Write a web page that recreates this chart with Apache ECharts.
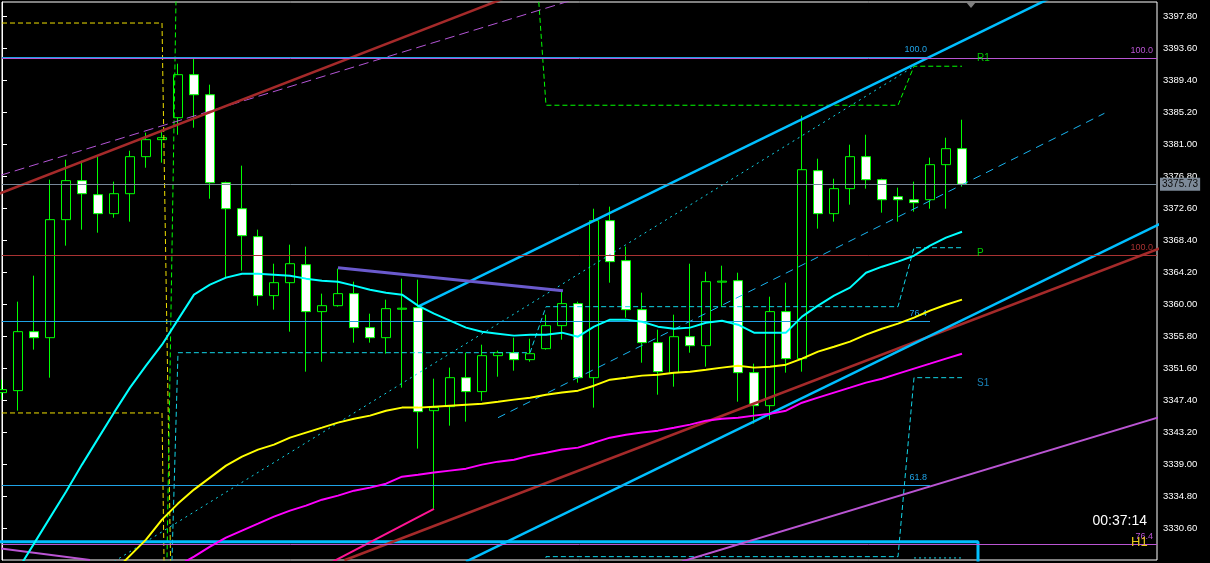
<!DOCTYPE html>
<html>
<head>
<meta charset="utf-8">
<script src="https://cdn.jsdelivr.net/npm/echarts@6.0.0/dist/echarts.min.js"></script>
<style>
html,body{margin:0;padding:0;background:#000;overflow:hidden;}
#chart{width:1210px;height:563px;}
</style>
</head>
<body>
<div id="chart"></div>
<script>
// ---------- DATA (H1 bars, index 0..60) ----------
const opens = [
  3348.37, 3348.63, 3356.37, 3355.58, 3371.07, 3376.19, 3374.35, 3371.86, 3374.48, 3379.34,
  3381.57, 3384.45, 3390.10, 3387.47, 3375.92, 3372.51, 3368.84, 3361.10, 3362.80, 3365.16,
  3359.00, 3359.78, 3361.36, 3356.90, 3355.58, 3359.32, 3359.52, 3346.00, 3346.53, 3350.33,
  3348.50, 3353.22, 3353.61, 3352.70, 3354.14, 3357.16, 3360.05, 3350.33, 3370.94, 3365.69,
  3359.26, 3354.93, 3350.99, 3355.71, 3354.53, 3362.87, 3363.06, 3350.99, 3346.66, 3359.00,
  3352.83, 3377.50, 3371.86, 3375.14, 3379.34, 3376.32, 3374.09, 3373.69, 3373.69, 3378.29,
  3380.39
];
const closes = [
  3348.76, 3356.37, 3355.58, 3371.07, 3376.19, 3374.48, 3371.86, 3374.48, 3379.34, 3381.57,
  3381.83, 3390.10, 3387.47, 3375.92, 3372.51, 3368.97, 3361.10, 3362.80, 3365.29, 3359.00,
  3359.78, 3361.36, 3356.90, 3355.58, 3359.39, 3359.45, 3345.87, 3346.40, 3350.33, 3348.50,
  3353.22, 3353.61, 3352.70, 3353.48, 3357.16, 3360.05, 3350.33, 3370.94, 3365.56, 3359.26,
  3354.93, 3351.12, 3355.71, 3354.53, 3362.93, 3363.00, 3350.99, 3346.66, 3359.00, 3352.83,
  3377.63, 3371.86, 3375.14, 3379.34, 3376.32, 3373.69, 3373.69, 3373.30, 3378.29, 3380.39,
  3375.73
];
const lows = [
  3347.45, 3346.00, 3354.01, 3350.33, 3367.66, 3369.76, 3369.36, 3371.33, 3370.81, 3377.89,
  3378.55, 3382.22, 3383.14, 3373.82, 3363.46, 3364.38, 3359.78, 3359.26, 3356.37, 3351.12,
  3352.43, 3359.65, 3354.93, 3354.93, 3353.48, 3349.02, 3341.02, 3333.14, 3344.03, 3344.56,
  3347.32, 3350.46, 3351.25, 3352.43, 3354.01, 3355.32, 3349.68, 3346.40, 3362.80, 3358.21,
  3352.30, 3348.10, 3349.15, 3353.61, 3351.78, 3359.65, 3347.18, 3344.30, 3344.82, 3350.99,
  3351.12, 3369.89, 3370.81, 3373.04, 3375.14, 3371.99, 3370.81, 3372.12, 3372.51, 3372.51,
  3375.40
];
const highs = [
  3350.07, 3360.31, 3363.72, 3376.32, 3378.94, 3378.81, 3379.34, 3376.06, 3380.12, 3382.49,
  3382.88, 3391.54, 3392.20, 3388.79, 3376.06, 3378.16, 3369.76, 3365.29, 3367.79, 3367.53,
  3361.36, 3364.64, 3362.93, 3358.73, 3360.57, 3363.33, 3363.19, 3350.20, 3351.65, 3353.61,
  3354.66, 3353.88, 3355.58, 3355.45, 3358.60, 3361.62, 3360.31, 3372.51, 3372.78, 3367.53,
  3361.49, 3356.63, 3358.60, 3365.29, 3364.24, 3365.03, 3364.11, 3352.17, 3360.96, 3362.80,
  3384.72, 3379.07, 3376.45, 3380.91, 3382.22, 3376.45, 3375.27, 3376.06, 3379.21, 3381.83,
  3384.19
];
// moving averages (fast = aqua, mid = yellow, slow = magenta)
const maFast = [
  3321.59, 3325.14, 3328.55, 3331.96, 3335.37, 3338.92, 3342.33, 3345.74, 3349.02, 3351.91,
  3354.66, 3357.95, 3361.23, 3362.54, 3363.46, 3363.98, 3363.98, 3363.85, 3363.72, 3363.33,
  3363.06, 3362.93, 3362.41, 3361.88, 3361.49, 3361.23, 3359.78, 3358.73, 3357.81, 3356.90,
  3356.37, 3356.11, 3355.85, 3355.98, 3355.98, 3356.24, 3355.71, 3357.03, 3357.95, 3357.95,
  3357.68, 3357.03, 3356.76, 3356.90, 3357.55, 3357.81, 3357.29, 3356.24, 3356.24, 3356.24,
  3358.34, 3359.78, 3361.10, 3362.15, 3364.11, 3364.90, 3365.56, 3366.34, 3367.66, 3368.71,
  3369.49
];
const maMid = [
  null, null, null, null, null, null, 3322.77, 3324.87, 3326.97, 3329.07,
  3331.70, 3333.80, 3335.64, 3337.21, 3338.79, 3339.97, 3340.89, 3341.54, 3342.46, 3343.12,
  3343.77, 3344.43, 3344.95, 3345.35, 3346.00, 3346.40, 3346.40, 3346.53, 3346.66, 3346.79,
  3346.92, 3347.18, 3347.45, 3347.71, 3348.10, 3348.37, 3348.63, 3349.28, 3350.07, 3350.33,
  3350.60, 3350.73, 3350.99, 3351.12, 3351.38, 3351.65, 3351.91, 3351.65, 3351.78, 3352.04,
  3352.83, 3353.75, 3354.40, 3355.06, 3355.98, 3356.76, 3357.42, 3358.21, 3359.13, 3359.91,
  3360.57
];
const maSlow = [
  null, null, null, null, null, null, null, null, null, null,
  null, 3325.66, 3326.84, 3328.16, 3329.34, 3330.26, 3331.17, 3332.09, 3332.88, 3333.54,
  3334.32, 3334.85, 3335.50, 3335.90, 3336.42, 3337.34, 3337.60, 3337.87, 3338.13, 3338.39,
  3338.92, 3339.31, 3339.57, 3340.10, 3340.49, 3340.89, 3341.15, 3341.80, 3342.46, 3342.85,
  3343.12, 3343.38, 3343.77, 3344.17, 3344.69, 3344.95, 3345.08, 3345.35, 3345.61, 3346.00,
  3347.05, 3347.71, 3348.37, 3349.02, 3349.68, 3350.20, 3350.86, 3351.52, 3352.17, 3352.83,
  3353.48
];
// price axis
const priceMin = 3326.4, priceMax = 3399.64, priceStep = 4.2;
const barsVisible = 72.1875;       // bar slots across the plot
const bidPrice = 3375.73;

// trend lines / channels as [barIndex, price]
const channelUpper = [[26, 3359.65], [66, 3400.65]];
const channelMid   = [[31, 3345.08], [68.9, 3385.03]];
const channelLower = [[29, 3326.19], [73, 3371.16]];
const brownUpper   = [[-1, 3373.80], [33, 3401.43]];
const brownLower   = [[21.4, 3326.37], [73, 3367.83]];
const violetUpper  = [[-1, 3376.31], [36, 3400.12]];
const violetLower  = [[42.5, 3326.21], [73, 3345.58]];
const violetLeft   = [[-1, 3328.18], [5.5, 3326.41]];
const slateLine    = [[21, 3364.77], [35.06, 3361.75]];
const pinkLine     = [[20.5, 3325.99], [27, 3333.10]];
const fibDiagonal  = [[7.0, 3326.2], [56.875, 3391.02]];
const blueBox      = [[-1, 3328.81], [61, 3328.81], [61, 3315.0]];

// daily pivot step lines
const pivotR1 = [[-1, 3285.8], [10, 3285.8], [11, 3416.2], [33, 3416.2], [34, 3386.09], [56, 3386.09], [57, 3391.21], [60, 3391.21]];
const pivotP  = [[-1, 3281.17], [10, 3281.17], [11, 3353.61], [33, 3353.61], [34, 3359.65], [56, 3359.65], [57, 3367.39], [60, 3367.39]];
const pivotS1 = [[33, 3290.0], [34, 3326.84], [56, 3326.84], [57, 3350.33], [60, 3350.33]];
const pivotS2 = [[57, 3326.67], [60, 3326.67]];
const dayLineA = [[-1, 3396.88], [10, 3396.88], [11, 3264.8]];
const dayLineB = [[-1, 3345.70], [10, 3345.70], [11, 3192.6]];

// fibo levels (end at bar 58) and full-width levels
const fibLevelNames  = ['100.0', '76.4', '61.8'];
const fibLevelPrices = [3392.39, 3357.76, 3336.27];
const fibEndBar = 58;
const fullLevelNames  = ['100.0', '100.0', '76.4'];
const fullLevelPrices = [3392.26, 3366.44, 3328.51];

// pivot tags
const tagNames  = ['R1', 'P', 'S1'];
const tagBars   = [60.94, 60.94, 60.94];
const tagPrices = [3392.20, 3366.61, 3349.55];

// ---------- CHART ----------
const FONT = '"Liberation Sans", Arial, sans-serif';
const candleData = opens.map((o, i) => [i, o, closes[i], lows[i], highs[i]]);
const toXY = arr => arr.map((v, i) => (v == null ? null : [i, v])).filter(p => p);

function seg(name, data, color, width, type, z) {
  return {
    name, type: 'line', data, symbol: 'none', silent: true, animation: false, clip: true,
    lineStyle: { color, width, type: type || 'solid' }, z: z || 3
  };
}

const fullColors = ['#ba55d3', '#a83232', '#ba55d3'];
const fibColor = '#1fa3e6';
const tagColors = { R1: '#00ff00', P: '#00ff00', S1: '#1fa3e6' };

const mlData = [];
mlData.push({
  yAxis: bidPrice,
  lineStyle: { color: '#778899', width: 1, type: 'solid' },
  label: { show: true, position: 'end', distance: 3, formatter: bidPrice.toFixed(2),
    color: '#0b0b0b', backgroundColor: '#7d8a99', padding: [2, 2, 1, 2], fontSize: 10, fontFamily: FONT }
});
fullLevelPrices.forEach((p, i) => {
  mlData.push({
    yAxis: p,
    lineStyle: { color: fullColors[i], width: 1, type: 'solid' },
    label: { show: true, position: 'insideEndTop', distance: 3, formatter: fullLevelNames[i],
      color: fullColors[i], fontSize: 9, fontFamily: FONT, padding: [0, 1, 0, 0] }
  });
});
fibLevelPrices.forEach((p, i) => {
  mlData.push([
    { coord: [0, p], lineStyle: { color: fibColor, width: 1, type: 'solid' },
      label: { show: true, position: 'insideEndTop', distance: 3, formatter: fibLevelNames[i],
        color: fibColor, fontSize: 9, fontFamily: FONT } },
    { coord: [fibEndBar, p] }
  ]);
});

const option = {
  backgroundColor: '#000000',
  animation: false,
  textStyle: { fontFamily: FONT },
  grid: { left: 2, right: 53, top: 2, bottom: 3, show: true, borderColor: '#ffffff', borderWidth: 1,
    backgroundColor: 'transparent', containLabel: false, outerBoundsMode: 'none' },
  xAxis: { type: 'value', min: 0, max: barsVisible, show: false },
  yAxis: {
    type: 'value', position: 'right', min: priceMin, max: priceMax, interval: priceStep,
    axisLine: { show: true, lineStyle: { color: '#ffffff', width: 1 } },
    axisTick: { show: true, length: 5, lineStyle: { color: '#ffffff' } },
    axisLabel: { color: '#ffffff', fontSize: 9.5, fontFamily: FONT, margin: 6,
      showMinLabel: false, showMaxLabel: false, formatter: v => v.toFixed(2) },
    splitLine: { show: false }
  },
  series: [
    {
      type: 'candlestick', data: candleData,
      dimensions: ['bar', 'open', 'close', 'lowest', 'highest'],
      encode: { x: 0, y: [1, 2, 3, 4] },
      barWidth: 9, silent: true, animation: false, z: 2,
      itemStyle: { color: '#000000', color0: '#ffffff', borderColor: '#00ff00', borderColor0: '#00ff00',
        borderColorDoji: '#00ff00', borderWidth: 1 }
    },
    seg('day A', dayLineA, '#f0e000', 1, [5, 3], 3),
    seg('day B', dayLineB, '#f0e000', 1, [5, 3], 3),
    seg('R1', pivotR1, '#00ff00', 1, [5, 3], 3),
    seg('P', pivotP, '#12d6e8', 1, [5, 3], 3),
    seg('S1', pivotS1, '#12d6e8', 1, [5, 3], 3),
    seg('S2', pivotS2, '#12d6e8', 1, [2, 3], 3),
    seg('fib diag', fibDiagonal, '#12d6e8', 1, [2, 4], 3),
    seg('channel mid', channelMid, '#18b4f0', 1, [8, 6], 3),
    seg('violet dashed', violetUpper, '#b455d6', 1, [10, 5], 3),
    {
      type: 'line', data: [[0, bidPrice]], symbol: 'none', silent: true, z: 3,
      lineStyle: { width: 0 },
      markLine: { symbol: ['none', 'none'], silent: true, animation: false, data: mlData }
    },
    seg('blue box', blueBox, '#00bfff', 3, 'solid', 4),
    seg('violet lower', violetLower, '#ba55d3', 2, 'solid', 4),
    seg('violet left', violetLeft, '#ba55d3', 2, 'solid', 4),
    seg('brown upper', brownUpper, '#a52a2a', 2.5, 'solid', 4),
    seg('brown lower', brownLower, '#a52a2a', 2.5, 'solid', 4),
    seg('channel upper', channelUpper, '#00bfff', 2.5, 'solid', 4),
    seg('channel lower', channelLower, '#00bfff', 2.5, 'solid', 4),
    seg('slate', slateLine, '#6a5acd', 3, 'solid', 4),
    seg('pink', pinkLine, '#ff1493', 2, 'solid', 4),
    seg('MA slow', toXY(maSlow), '#ff00ff', 2, 'solid', 5),
    seg('MA mid', toXY(maMid), '#ffff00', 2, 'solid', 5),
    seg('MA fast', toXY(maFast), '#00ffff', 2, 'solid', 5),
    {
      type: 'scatter', symbolSize: 0, silent: true, z: 6, animation: false,
      data: tagNames.map((n, i) => ({ value: [tagBars[i], tagPrices[i]], name: n,
        label: { color: tagColors[n] } })),
      label: { show: true, position: 'right', distance: 0, formatter: p => p.name,
        fontSize: 10, fontFamily: FONT }
    }
  ],
  graphic: [
    { type: 'polygon', z: 100, shape: { points: [[966, 2], [976, 2], [971, 8]] }, style: { fill: '#808080' } },
    { type: 'text', z: 100, x: 1147, y: 521,
      style: { text: '00:37:14', fill: '#ffffff', font: '14px "Liberation Sans", Arial, sans-serif',
        align: 'right', textAlign: 'right', verticalAlign: 'middle', textVerticalAlign: 'middle' } },
    { type: 'text', z: 100, x: 1131, y: 542,
      style: { text: 'H1', fill: '#e8c81c', font: '13px "Liberation Sans", Arial, sans-serif',
        align: 'left', textAlign: 'left', verticalAlign: 'middle', textVerticalAlign: 'middle' } }
  ]
};

const chart = echarts.init(document.getElementById('chart'), null, { renderer: 'canvas' });
chart.setOption(option);
</script>
</body>
</html>
